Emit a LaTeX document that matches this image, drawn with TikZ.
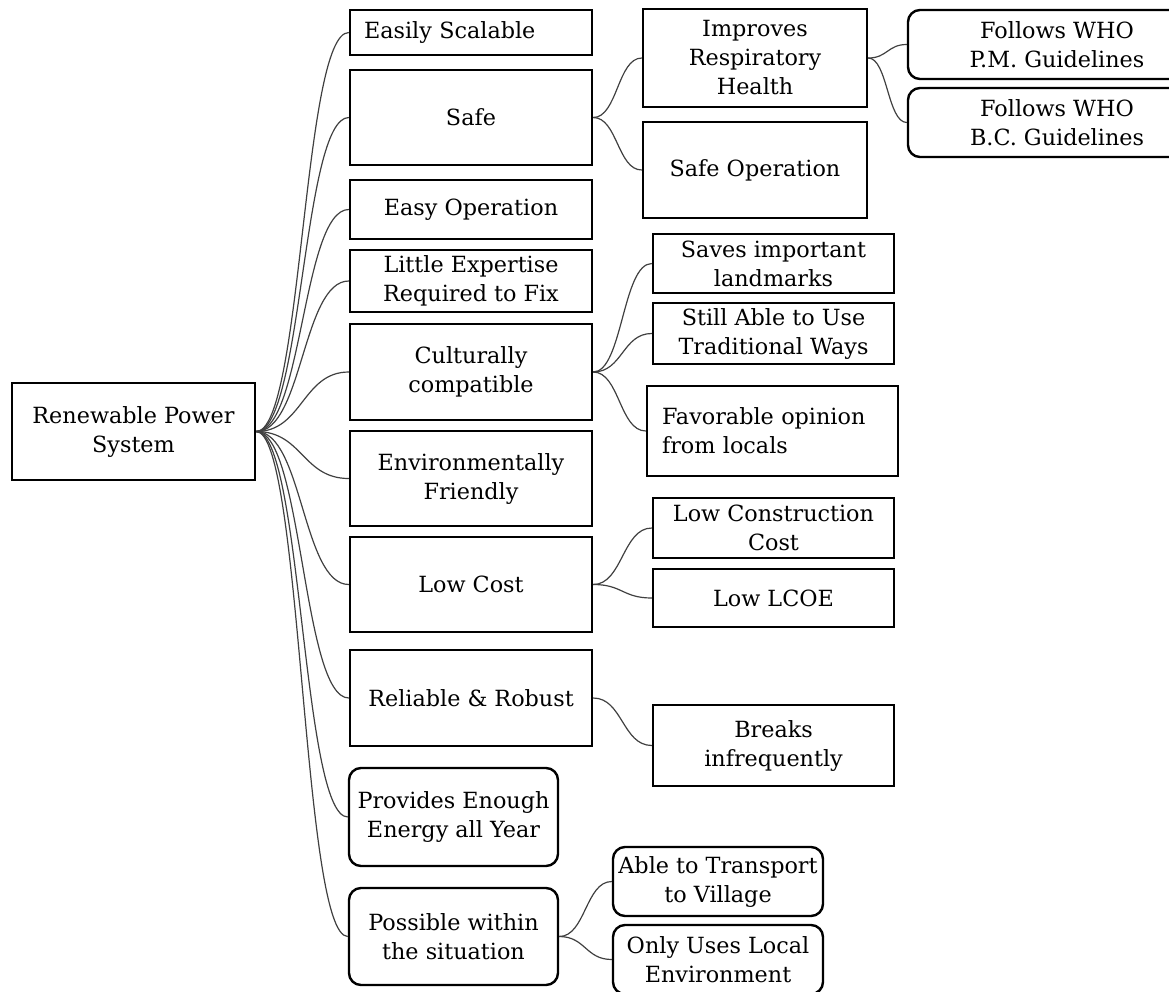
\documentclass[tikz,border=0pt]{standalone}
\usepackage{fontspec}
\setmainfont{DejaVu Serif}
\usetikzlibrary{calc}

\tikzset{
  box/.style={draw, line width=2.4pt, inner sep=0pt, align=center,
    font=\fontsize{22.3}{29}\selectfont},
  rbox/.style={box, rounded corners=12pt},
  lbox/.style={box, align=left},
  link/.style={draw=black!75, line width=1.2pt,
    to path={let \p1=(\tikztostart), \p2=(\tikztotarget) in
      .. controls ({(\x1+\x2)/2},\y1) and ({(\x1+\x2)/2},\y2) .. (\tikztotarget)}}
}

\begin{document}
\begin{tikzpicture}[x=1pt,y=-1pt]
          \path[use as bounding box, clip] (0,0) rectangle (1169,991);
          % root
          \node[box, minimum width=243, minimum height=97] at (133.5,431.5) (root) {Renewable Power\\System};
          % first level
          \node[lbox, minimum width=242, minimum height=45, text width=214, inner xsep=14] at (471,32.5) (scal) {Easily Scalable};
          \node[box, minimum width=242, minimum height=95] at (471,117.5) (safe) {Safe};
          \node[box, minimum width=242, minimum height=59] at (471,209.5) (easyop) {Easy Operation};
          \node[box, minimum width=242, minimum height=62] at (471,281) (expert) {Little Expertise\\Required to Fix};
          \node[box, minimum width=242, minimum height=96] at (471,372) (cult) {Culturally\\compatible};
          \node[box, minimum width=242, minimum height=95] at (471,478.5) (env) {Environmentally\\Friendly};
          \node[box, minimum width=242, minimum height=95] at (471,584.5) (cost) {Low Cost};
          \node[box, minimum width=242, minimum height=96] at (471,698) (reli) {Reliable \& Robust};
          \node[rbox, minimum width=209, minimum height=98] at (453.5,817) (enough) {Provides Enough\\Energy all Year};
          \node[rbox, minimum width=209, minimum height=97] at (453.5,936.5) (possible) {Possible within\\the situation};
          % second level
          \node[box, minimum width=224, minimum height=98] at (755,58) (resp) {Improves\\Respiratory\\Health};
          \node[box, minimum width=224, minimum height=96] at (755,170) (safeop) {Safe Operation};
          \node[box, minimum width=241, minimum height=59] at (773.5,263.5) (land) {Saves important\\landmarks};
          \node[box, minimum width=241, minimum height=61] at (773.5,333.5) (trad) {Still Able to Use\\Traditional Ways};
          \node[lbox, minimum width=251, minimum height=90, text width=221, inner xsep=15] at (772.5,431) (fav) {Favorable opinion\\from locals};
          \node[box, minimum width=241, minimum height=60] at (773.5,528) (constr) {Low Construction\\Cost};
          \node[box, minimum width=241, minimum height=58] at (773.5,598) (lcoe) {Low LCOE};
          \node[box, minimum width=241, minimum height=81] at (773.5,745.5) (breaks) {Breaks\\infrequently};
          \node[rbox, minimum width=210, minimum height=69] at (718,881.5) (transp) {Able to Transport\\to Village};
          \node[rbox, minimum width=210, minimum height=69] at (718,959.5) (local) {Only Uses Local\\Environment};
          % third level
          \node[rbox, minimum width=298, minimum height=69] at (1057,44.5) (pm) {Follows WHO\\P.M. Guidelines};
          \node[rbox, minimum width=298, minimum height=69] at (1057,122.5) (bc) {Follows WHO\\B.C. Guidelines};
          % connectors
          \path[link] (root.east) edge (scal.west);
          \path[link] (root.east) edge (safe.west);
          \path[link] (root.east) edge (easyop.west);
          \path[link] (root.east) edge (expert.west);
          \path[link] (root.east) edge (cult.west);
          \path[link] (root.east) edge (env.west);
          \path[link] (root.east) edge (cost.west);
          \path[link] (root.east) edge (reli.west);
          \path[link] (root.east) edge (enough.west);
          \path[link] (root.east) edge (possible.west);
          \path[link] (safe.east) edge (resp.west);
          \path[link] (safe.east) edge (safeop.west);
          \path[link] (resp.east) edge (pm.west);
          \path[link] (resp.east) edge (bc.west);
          \path[link] (cult.east) edge (land.west);
          \path[link] (cult.east) edge (trad.west);
          \path[link] (cult.east) edge (fav.west);
          \path[link] (cost.east) edge (constr.west);
          \path[link] (cost.east) edge (lcoe.west);
          \path[link] (reli.east) edge (breaks.west);
          \path[link] (possible.east) edge (transp.west);
          \path[link] (possible.east) edge (local.west);
\end{tikzpicture}
\end{document}
